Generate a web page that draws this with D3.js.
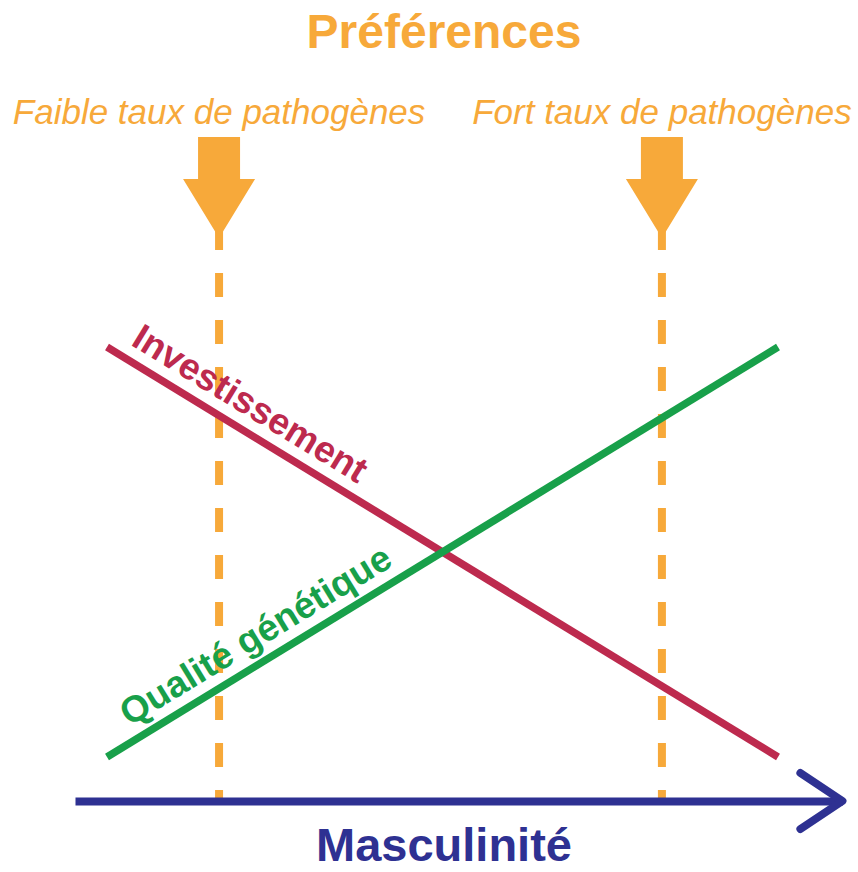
<!DOCTYPE html>
<html>
<head>
<meta charset="utf-8">
<style>
  body { margin: 0; background: #fff; }
  svg { display: block; font-family: "Liberation Sans", Arial, sans-serif; }
</style>
</head>
<body>
<svg width="858" height="872"></svg>
<script src="https://cdn.jsdelivr.net/npm/d3@7"></script>
<script>
// data
var masculinite = [0, 1];                 // x extent of the two trend lines
var investissement = [1, 0];              // falls with masculinity
var qualiteGenetique = [0, 1];            // rises with masculinity
var preferenceLabels = ["Faible taux de pathogènes", "Fort taux de pathogènes"];
var preferencePositions = [0.167, 0.827];
var axisExtent = [-0.0477, 1.096];        // the arrow axis runs a bit past the lines

var orange = "#f7a93a",
    red = "#bd2a4e",
    green = "#18a04a",
    blue = "#2e3192";

var svg = d3.select("svg");

var x = d3.scaleLinear().domain([0, 1]).range([107, 778]);
var y = d3.scaleLinear().domain([0, 1]).range([757, 347]);
var axisY = 801;

// title
svg.append("text")
    .attr("x", 444)
    .attr("y", 48)
    .attr("text-anchor", "middle")
    .attr("font-size", 48)
    .attr("font-weight", "bold")
    .attr("fill", orange)
    .text("Préférences");

// preference labels, arrows and dashed lines
var pref = svg.selectAll(".pref")
    .data(preferencePositions)
    .enter().append("g")
    .attr("class", "pref")
    .attr("transform", function(d) { return "translate(" + x(d) + ",0)"; });

pref.append("line")
    .attr("y1", 226)
    .attr("y2", axisY)
    .attr("stroke", orange)
    .attr("stroke-width", 8)
    .attr("stroke-dasharray", "24,23");

pref.append("path")
    .attr("d", "M-21,137H21V179H36L0,238L-36,179H-21Z")
    .attr("fill", orange);

pref.append("text")
    .attr("y", 124)
    .attr("text-anchor", "middle")
    .attr("font-size", 35)
    .attr("font-style", "italic")
    .attr("fill", orange)
    .text(function(d, i) { return preferenceLabels[i]; });

// trend lines
var line = d3.line()
    .x(function(d) { return x(d[0]); })
    .y(function(d) { return y(d[1]); });

var series = [
  {name: "Investissement", values: investissement, color: red, start: 18},
  {name: "Qualité génétique", values: qualiteGenetique, color: green, start: 35}
];

series.forEach(function(s) {
  var pts = masculinite.map(function(m, i) { return [m, s.values[i]]; });
  svg.append("path")
      .attr("d", line(pts))
      .attr("fill", "none")
      .attr("stroke", s.color)
      .attr("stroke-width", 7.5);

  var x0 = x(pts[0][0]), y0 = y(pts[0][1]),
      x1 = x(pts[1][0]), y1 = y(pts[1][1]);
  var ang = Math.atan2(y1 - y0, x1 - x0);
  svg.append("text")
      .attr("transform", "translate(" + x0 + "," + y0 + ") rotate(" + (ang * 180 / Math.PI) + ")")
      .attr("x", s.start)
      .attr("y", -14)
      .attr("font-size", 37)
      .attr("font-weight", "bold")
      .attr("fill", s.color)
      .text(s.name);
});

// masculinity axis
var xAxis = d3.scaleLinear().domain(axisExtent).range([x(axisExtent[0]), x(axisExtent[1])]);

var ax = svg.append("g")
    .attr("transform", "translate(0," + axisY + ")")
    .call(d3.axisBottom(xAxis).tickValues([]).tickSizeOuter(0));
ax.select(".domain")
    .attr("stroke", blue)
    .attr("stroke-width", 8);

var tip = xAxis.range()[1];
svg.append("path")
    .attr("d", "M" + (tip - 42) + "," + (axisY - 28) + "L" + tip + "," + axisY + "L" + (tip - 42) + "," + (axisY + 28))
    .attr("fill", "none")
    .attr("stroke", blue)
    .attr("stroke-width", 8)
    .attr("stroke-linecap", "round")
    .attr("stroke-linejoin", "round");

svg.append("text")
    .attr("x", 444)
    .attr("y", 861)
    .attr("text-anchor", "middle")
    .attr("font-size", 47)
    .attr("font-weight", "bold")
    .attr("fill", blue)
    .text("Masculinité");
</script>
</body>
</html>
